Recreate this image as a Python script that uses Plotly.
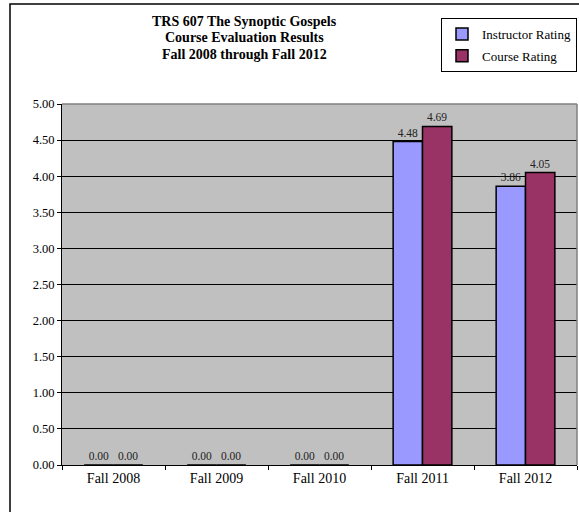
import plotly.graph_objects as go

categories = ["Fall 2008", "Fall 2009", "Fall 2010", "Fall 2011", "Fall 2012"]
instructor = [0.00, 0.00, 0.00, 4.48, 3.86]
course = [0.00, 0.00, 0.00, 4.69, 4.05]
y_ticks = [0, 0.5, 1, 1.5, 2, 2.5, 3, 3.5, 4, 4.5, 5]
title_lines = ["TRS 607 The Synoptic Gospels", "Course Evaluation Results",
               "Fall 2008 through Fall 2012"]

FONT = "Liberation Serif, Times New Roman, serif"
W, H = 579, 512
L, R, T, B = 62, 2, 104, 47
pw, ph = W - L - R, H - T - B


def px_x(x):
    return (x - L) / pw


def px_y(y):
    return (H - B - y) / ph


fig = go.Figure()
fig.add_trace(go.Bar(
    x=categories, y=instructor, name="Instructor Rating", legendgroup="a",
    marker=dict(color="#9999FF", line=dict(color="black", width=1.5)),
    text=[f"{v:.2f}" for v in instructor], textposition="outside",
    textfont=dict(family=FONT, size=11.5, color="#222"), cliponaxis=False,
))
fig.add_trace(go.Bar(
    x=categories, y=course, name="Course Rating", legendgroup="b",
    marker=dict(color="#993366", line=dict(color="black", width=1.5)),
    text=[f"{v:.2f}" for v in course], textposition="outside",
    textfont=dict(family=FONT, size=11.5, color="#222"), cliponaxis=False,
))

fig.update_layout(
    width=W, height=H,
    margin=dict(l=L, r=R, t=T, b=B),
    paper_bgcolor="white", plot_bgcolor="#C0C0C0",
    barmode="group", bargap=0.43, bargroupgap=0,
    font=dict(family=FONT, size=13, color="black"),
    legend=dict(
        x=1.0, xanchor="right", y=1 + (T - 18) / ph, yanchor="top",
        bordercolor="black", borderwidth=1, bgcolor="white",
        font=dict(family=FONT, size=13), itemwidth=30,
        traceorder="grouped", tracegroupgap=2,
    ),
    showlegend=True,
)
for i, line in enumerate(title_lines):
    fig.add_annotation(
        text=f"<b>{line}</b>", xref="paper", yref="paper",
        x=px_x(244), y=px_y(22 + 16 * i), xanchor="center", yanchor="middle",
        showarrow=False, font=dict(family=FONT, size=14, color="black"),
    )

fig.update_xaxes(
    type="category", showline=True, linecolor="black", linewidth=1,
    ticks="outside", tickson="boundaries", ticklen=4, tickcolor="black",
    tickfont=dict(family=FONT, size=14), showgrid=False,
)
fig.update_yaxes(
    range=[0, 5], tickvals=y_ticks, tickformat=".2f",
    showline=True, linecolor="black", linewidth=1,
    ticks="outside", ticklen=4, tickcolor="black",
    showgrid=True, gridcolor="black", gridwidth=1,
    zeroline=True, zerolinecolor="black", zerolinewidth=1,
    tickfont=dict(family=FONT, size=12.5),
)

# plot-area border (gray) and chart outer border (black)
fig.add_shape(type="line", xref="paper", yref="paper", x0=0, x1=1, y0=1, y1=1,
              line=dict(color="#808080", width=1.5))
fig.add_shape(type="line", xref="paper", yref="paper", x0=1, x1=1, y0=0, y1=1,
              line=dict(color="#808080", width=1.5))
fig.add_shape(type="rect", xref="paper", yref="paper",
              x0=px_x(10), x1=1.05, y0=-0.3, y1=px_y(4),
              line=dict(color="black", width=1.5), fillcolor="rgba(0,0,0,0)")

fig.write_html("out.html")
